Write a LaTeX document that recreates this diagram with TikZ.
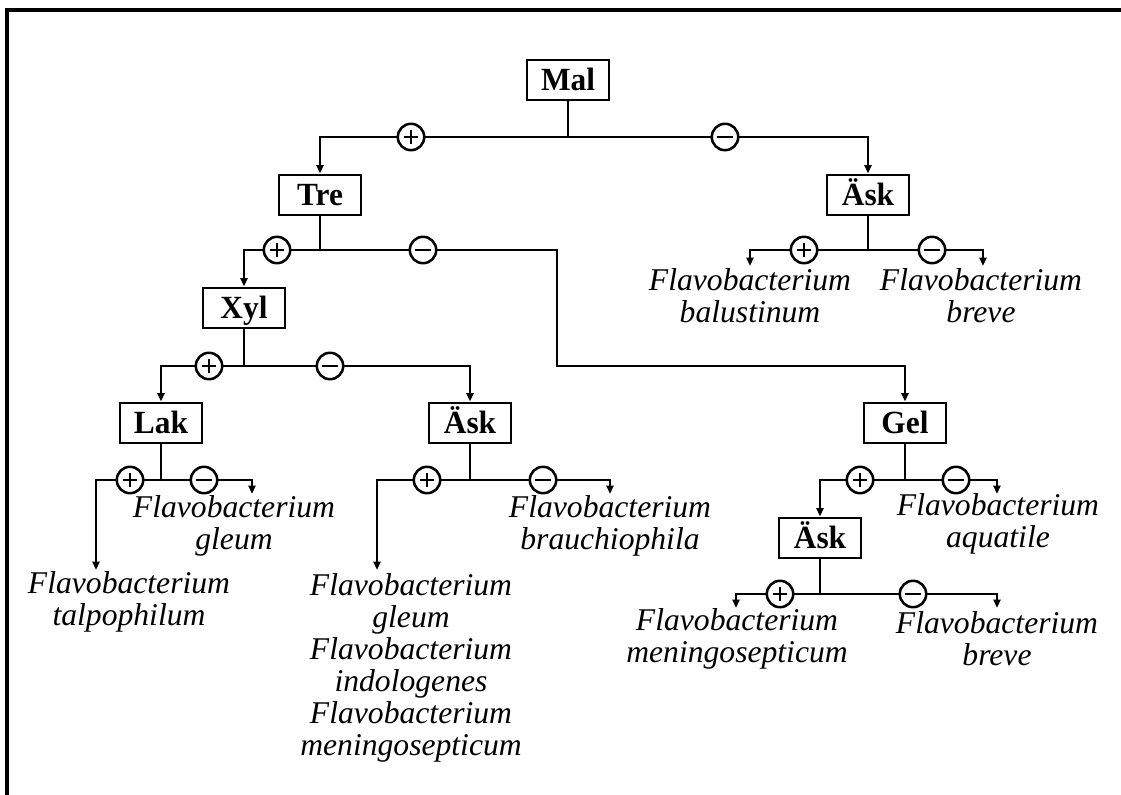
\documentclass[tikz,border=0pt]{standalone}
\usepackage{fontspec}
\setmainfont{Liberation Serif}
\newfontfamily\fogliaFont{Liberation Serif}
\newfontfamily\etichettaFont[FakeStretch=0.97]{Liberation Serif}
\usepackage{tikz}
\usetikzlibrary{arrows.meta, positioning}

\tikzset{
    scatola/.style={draw, line width=2.1pt, minimum width=2.05cm, minimum height=1cm,
        inner sep=0pt, text height=15pt, text depth=0pt,
        font=\fontsize{23}{23}\selectfont\etichettaFont\bfseries},
    foglia/.style={align=center, inner sep=0pt,
        font=\fontsize{22.5}{22.8}\selectfont\fogliaFont\itshape},
    ramo/.style={line width=2pt},
    freccia/.style={ramo, -{Triangle[length=6pt,width=5pt]}},
    segno/.style={circle, draw, line width=1.8pt, fill=white, minimum size=0.66cm, inner sep=0pt},
    segnoPiu/.style={segno, path picture={
        \draw[line width=0.9pt] ([xshift=-0.18cm]path picture bounding box.center) -- ([xshift=0.18cm]path picture bounding box.center);
        \draw[line width=0.9pt] ([yshift=-0.18cm]path picture bounding box.center) -- ([yshift=0.18cm]path picture bounding box.center);}},
    segnoMeno/.style={segno, path picture={
        \draw[line width=1pt] ([xshift=-0.2cm]path picture bounding box.center) -- ([xshift=0.2cm]path picture bounding box.center);}}
}

\begin{document}
\begin{tikzpicture}

    \useasboundingbox (0,0) rectangle (28.025,19.85);

    % cornice (aperta in basso e a destra)
    \draw[line width=2.2pt] (0.175,-0.1) -- (0.175,19.6) -- (28.2,19.6);

    % ==========================================
    % 1. I TEST (SCATOLE)
    % ==========================================
    \node[scatola] (mal)  at (14.2, 17.85)  {Mal};
    \node[scatola] (tre)  at (8.0, 14.975)  {Tre};
    \node[scatola] (askA) at (21.7, 14.975) {Äsk};
    \node[scatola] (xyl)  at (6.1, 12.15)   {Xyl};
    \node[scatola] (lak)  at (4.025, 9.275) {Lak};
    \node[scatola] (askB) at (11.75, 9.275) {Äsk};
    \node[scatola] (gel)  at (22.625, 9.275) {Gel};
    \node[scatola] (askC) at (20.5, 6.4)    {Äsk};

    % ==========================================
    % 2. SEGNI + / -
    % ==========================================
    \node[segnoPiu]  (malPiu)  at (10.275, 16.425) {};
    \node[segnoMeno] (malMeno) at (18.125, 16.425) {};
    \node[segnoPiu]  (trePiu)  at (6.925, 13.6)  {};
    \node[segnoMeno] (treMeno) at (10.575, 13.6) {};
    \node[segnoPiu]  (askAPiu)  at (20.1, 13.6) {};
    \node[segnoMeno] (askAMeno) at (23.3, 13.6) {};
    \node[segnoPiu]  (xylPiu)  at (5.225, 10.7) {};
    \node[segnoMeno] (xylMeno) at (8.25, 10.7)  {};
    \node[segnoPiu]  (lakPiu)  at (3.25, 7.85) {};
    \node[segnoMeno] (lakMeno) at (5.1, 7.85)  {};
    \node[segnoPiu]  (askBPiu)  at (10.675, 7.85) {};
    \node[segnoMeno] (askBMeno) at (13.575, 7.85) {};
    \node[segnoPiu]  (gelPiu)  at (21.5, 7.85) {};
    \node[segnoMeno] (gelMeno) at (23.9, 7.85) {};
    \node[segnoPiu]  (askCPiu)  at (19.5, 5.0)   {};
    \node[segnoMeno] (askCMeno) at (22.825, 5.0) {};

    % punti di diramazione e di arrivo
    \coordinate (malNodo)  at (14.2, 16.425);
    \coordinate (treNodo)  at (8.0, 13.6);
    \coordinate (treGiro1) at (13.925, 13.6);
    \coordinate (treGiro2) at (13.925, 10.7);
    \coordinate (askANodo) at (21.7, 13.6);
    \coordinate (xylNodo)  at (6.1, 10.7);
    \coordinate (lakNodo)  at (4.025, 7.85);
    \coordinate (askBNodo) at (11.75, 7.85);
    \coordinate (gelNodo)  at (22.625, 7.85);
    \coordinate (askCNodo) at (20.5, 5.0);

    \coordinate (fineBalu)  at (18.75, 13.2);
    \coordinate (fineBreve) at (24.575, 13.2);
    \coordinate (fineTalp)  at (2.4, 5.6);
    \coordinate (fineGleum) at (6.3, 7.5);
    \coordinate (fineTre)   at (9.425, 5.6);
    \coordinate (fineBrau)  at (15.25, 7.5);
    \coordinate (fineAqua)  at (24.925, 7.5);
    \coordinate (fineMeni)  at (18.4, 4.65);
    \coordinate (fineBreve2) at (24.925, 4.65);

    % ==========================================
    % 3. I RAMI
    % ==========================================
    \draw[ramo] (mal) -- (malNodo) -- (malPiu);
    \draw[ramo] (malNodo) -- (malMeno);
    \draw[freccia] (malPiu) -| (tre);
    \draw[freccia] (malMeno) -| (askA);

    \draw[ramo] (tre) -- (treNodo) -- (trePiu);
    \draw[ramo] (treNodo) -- (treMeno);
    \draw[freccia] (trePiu) -| (xyl);
    \draw[freccia] (treMeno) -- (treGiro1) -- (treGiro2) -| (gel);

    \draw[ramo] (askA) -- (askANodo) -- (askAPiu);
    \draw[ramo] (askANodo) -- (askAMeno);
    \draw[freccia] (askAPiu) -| (fineBalu);
    \draw[freccia] (askAMeno) -| (fineBreve);

    \draw[ramo] (xyl) -- (xylNodo) -- (xylPiu);
    \draw[ramo] (xylNodo) -- (xylMeno);
    \draw[freccia] (xylPiu) -| (lak);
    \draw[freccia] (xylMeno) -| (askB);

    \draw[ramo] (lak) -- (lakNodo) -- (lakPiu);
    \draw[ramo] (lakNodo) -- (lakMeno);
    \draw[freccia] (lakPiu) -| (fineTalp);
    \draw[freccia] (lakMeno) -| (fineGleum);

    \draw[ramo] (askB) -- (askBNodo) -- (askBPiu);
    \draw[ramo] (askBNodo) -- (askBMeno);
    \draw[freccia] (askBPiu) -| (fineTre);
    \draw[freccia] (askBMeno) -| (fineBrau);

    \draw[ramo] (gel) -- (gelNodo) -- (gelPiu);
    \draw[ramo] (gelNodo) -- (gelMeno);
    \draw[freccia] (gelPiu) -| (askC);
    \draw[freccia] (gelMeno) -| (fineAqua);

    \draw[ramo] (askC) -- (askCNodo) -- (askCPiu);
    \draw[ramo] (askCNodo) -- (askCMeno);
    \draw[freccia] (askCPiu) -| (fineMeni);
    \draw[freccia] (askCMeno) -| (fineBreve2);

    % ==========================================
    % 4. LE SPECIE
    % ==========================================
    \node[foglia] (balu)   at (18.75, 12.45)  {Flavobacterium\\balustinum};
    \node[foglia] (breve)  at (24.525, 12.45) {Flavobacterium\\breve};
    \node[foglia] (gleum)  at (5.85, 6.7)     {Flavobacterium\\gleum};
    \node[foglia] (talp)   at (3.225, 4.8)    {Flavobacterium\\talpophilum};
    \node[foglia] (tre3)   at (10.275, 3.15)  {Flavobacterium\\gleum\\Flavobacterium\\indologenes\\Flavobacterium\\meningosepticum};
    \node[foglia] (brau)   at (15.25, 6.7)    {Flavobacterium\\brauchiophila};
    \node[foglia] (aqua)   at (24.95, 6.75)   {Flavobacterium\\aquatile};
    \node[foglia] (meni)   at (18.425, 3.875) {Flavobacterium\\meningosepticum};
    \node[foglia] (breve2) at (24.925, 3.875) {Flavobacterium\\breve};

\end{tikzpicture}
\end{document}
